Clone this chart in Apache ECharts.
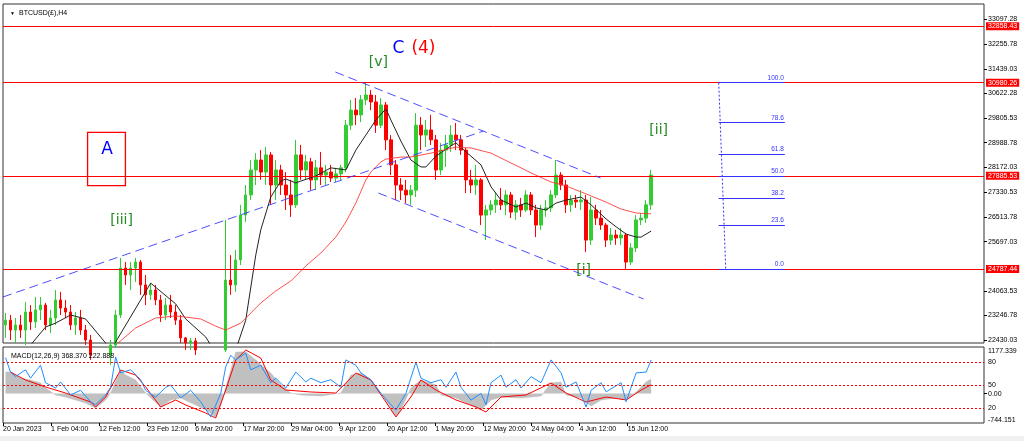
<!DOCTYPE html>
<html><head><meta charset="utf-8">
<script src="https://cdn.jsdelivr.net/npm/echarts@6/dist/echarts.min.js"></script>
<style>html,body{margin:0;padding:0;background:#fff;}#c{width:1024px;height:441px;}</style>
</head><body><div id="c"></div>
<script>
// ---- candles (bar index 0..129, H4 bars sampled) ----
const opens = [22930,23090,22760,22930,22760,23360,23030,23430,23590,22930,
 23160,23760,23490,23360,22930,23160,22760,22430,21930,21600,
 21770,21930,22260,23260,24820,24590,24820,25020,24260,23930,
 24090,23760,23260,23590,23360,23090,22500,22330,22400,22100,
 21600,21430,21270,21430,22100,24420,24260,25090,26580,27250,
 28080,28410,28010,28580,27580,28080,27580,27250,26920,28580,
 28080,28350,27750,28150,27910,28010,27810,27950,28150,29570,
 30070,29910,30410,30570,30340,29570,30240,29080,28250,27580,
 27410,27250,27410,29570,29240,29410,29080,28080,28740,28910,
 29240,29080,28740,27750,27580,27750,26580,26750,26920,27080,
 26920,27250,26680,26920,26750,27250,26750,26250,26750,26820,
 27250,27910,27580,26920,27080,27020,27080,25750,26750,26480,
 26250,25750,25920,25820,25920,25020,25490,26420,26480,26920];
const closes = [23090,22760,22930,22760,23360,23030,23430,23590,22930,23160,
 23760,23490,23360,22930,23160,22760,22430,21930,21600,21770,
 21930,22260,23260,24820,24590,24820,25020,24260,23930,24090,
 23760,23260,23590,23360,23090,22500,22330,22400,22100,21600,
 21430,21270,21430,22100,24420,24260,25090,26580,27250,28080,
 28410,28010,28580,27580,28080,27580,27250,26920,28580,28080,
 28350,27750,28150,27910,28010,27810,27950,28150,29570,30070,
 29910,30410,30570,30340,29570,30240,29080,28250,27580,27410,
 27250,27410,29570,29240,29410,29080,28080,28740,28910,29240,
 29080,28740,27750,27580,27750,26580,26750,26920,27080,26920,
 27250,26680,26920,26750,27250,26750,26250,26750,26820,27250,
 27910,27580,26920,27080,27020,27080,25750,26750,26480,26250,
 25750,25920,25820,25920,25020,25490,26420,26480,26920,27910];
const highs = [23330,23260,23160,23260,23690,23590,23860,23860,23660,23430,
 24090,24030,23760,23590,23360,23430,22930,22600,22100,21930,
 22100,22430,23430,25160,25020,25020,25160,25090,24590,24320,
 24260,23930,23830,23930,23590,23260,22530,22500,22500,22260,
 21930,21770,21600,22260,26420,25250,25420,26920,27580,28410,
 28640,28740,28840,28680,28410,28250,28010,27750,29080,28910,
 28580,28480,28410,28680,28250,28250,28150,28250,29740,30410,
 30470,30570,30980,30740,30570,30470,30340,29240,28410,27810,
 27750,27580,29970,29840,29740,29910,29240,28980,29240,29570,
 29640,29240,28810,28080,28250,27810,26920,27080,27350,27480,
 27410,27350,27080,27150,27410,27350,26920,26920,27080,27410,
 28410,28010,27750,27250,27250,27410,27250,27180,26920,26750,
 26320,26150,26090,26150,25990,25650,26580,26650,27080,28080];
const lows = [22500,22430,22330,22500,22260,22760,22830,23090,22760,22660,
 22930,23260,23160,22760,22600,22600,22260,21770,21430,21270,
 21370,21600,22160,23160,24260,24090,24360,23930,23590,23760,
 23590,23030,23090,23160,22930,22330,22100,22100,21930,21430,
 21100,20930,20770,21100,22030,23930,24030,24920,26350,27080,
 27580,27750,27580,26920,27080,27250,26750,26520,26820,27750,
 27750,27410,27410,27580,27580,27680,27680,27750,28010,29410,
 29570,29670,30240,30070,29310,29470,28740,27910,27080,27080,
 26980,26920,27180,28740,28840,28910,27750,27910,28180,28680,
 28740,28580,27310,27310,27250,26250,25750,26580,26650,26750,
 26580,26480,26420,26520,26680,26580,25850,26090,26520,26680,
 27150,27410,26650,26680,26820,26750,25350,25590,26250,26090,
 25520,25590,25590,25590,24790,24920,25350,26250,26320,26750];

// ---- moving averages: [bar index, price] ----
const maFast = [[5,22260],[8,22860],[10,22990],[13,23260],[16,23130],[17,22930],[19,22530],[20,22330],[21,22030],[22,22360],
 [29,24320],[34,23630],[36,23130],[40,22530],[41,22260],[43,21600],[46,22100],[48,23090],[50,25250],[51,26090],
 [53,27180],[55,27710],[56,27780],[58,27650],[59,27710],[62,27880],[65,28150],[68,28080],[70,28740],[72,29240],
 [74,29740],[76,30110],[77,29740],[79,29040],[81,28410],[83,28180],[84,28180],[86,28540],[89,28880],[90,28980],
 [92,28680],[95,28250],[97,27520],[99,27080],[102,26850],[104,26980],[106,26820],[108,26750],[110,26980],[112,27080],
 [115,27180],[117,26920],[120,26450],[122,26190],[124,25950],[126,25850],[127,25850],[129,26050]];
const maSlow = [[20,22030],[22,22260],[26,22830],[30,23160],[34,23230],[36,23190],[39,23130],[42,22890],[44,22760],[47,22990],
 [51,23660],[54,24060],[57,24390],[60,24890],[63,25320],[66,25850],[68,26350],[70,26980],[72,27750],[73,28010],
 [75,28350],[76,28440],[79,28510],[81,28510],[85,28640],[90,28840],[93,28810],[97,28640],[101,28310],[103,28150],
 [105,27980],[109,27680],[112,27550],[115,27350],[119,27080],[120,27010],[123,26780],[126,26650],[129,26620]];

// ---- MACD window: [bar index, value] ----
const macdHist = [[0,545],[1,545],[3,394],[5,343],[7,267],[8,141],[10,-36],[12,-87],[14,-162],[16,-238],[18,-365],[20,-162],[21,14],
 [23,596],[24,469],[26,343],[28,14],[31,-340],[33,-162],[35,-112],[38,-289],[40,-415],[42,-592],[43,-289],[45,596],[46,1051],
 [48,1051],[50,849],[53,520],[55,217],[57,14],[59,-36],[63,-61],[67,14],[69,469],[71,520],[73,343],[75,14],[77,-365],[78,-592],
 [79,-415],[81,141],[83,343],[86,217],[87,-36],[90,-112],[93,-289],[95,-415],[97,-162],[99,-87],[103,-112],[107,-61],[109,267],
 [111,293],[112,-36],[115,-112],[117,-314],[119,-162],[122,-112],[124,-162],[126,40],[128,293],[129,368]];
const macdSignal = [[1,545],[4,343],[8,166],[12,14],[17,-213],[18,-340],[20,-87],[23,596],[26,469],[28,166],[31,-340],[34,-162],
 [36,-289],[40,-491],[42,-618],[44,90],[46,849],[48,1101],[51,899],[53,343],[56,90],[61,40],[66,14],[70,520],[73,343],[76,-213],
 [78,-592],[81,-87],[83,343],[86,90],[90,-162],[94,-340],[96,-466],[99,-87],[104,-36],[109,267],[112,14],[116,-213],[120,-87],
 [124,-162],[127,90],[129,223]];
const oscLine = [[0,86],[1,67],[2,61],[4,70],[5,59],[7,76],[8,53],[10,46],[11,54],[13,37],[15,43],[17,28],[18,24],[20,37],[21,47],
 [22,87],[23,66],[25,70],[27,57],[28,43],[30,34],[32,47],[33,50],[35,33],[37,43],[39,28],[41,8],[43,39],[44,74],[45,89],[46,83],
 [48,92],[49,70],[51,76],[53,53],[54,59],[56,46],[58,67],[60,54],[61,59],[63,53],[65,57],[67,47],[68,83],[70,76],[71,66],[73,57],
 [75,39],[77,24],[78,17],[80,39],[82,80],[83,59],[85,53],[87,57],[88,47],[90,67],[91,47],[93,30],[95,39],[96,24],[97,53],[99,63],
 [100,47],[102,57],[103,46],[105,61],[107,53],[109,83],[111,66],[112,47],[114,54],[116,21],[117,43],[119,53],[120,41],[123,53],
 [124,28],[126,66],[128,67],[129,83]];
const oscLevels = [80, 50, 20];
const macdMin = -744.151, macdMax = 1177.339;

// ---- axes ----
const NSLOT = 196;
const priceMin = 22330, priceMax = 33595;
const priceTicks = [33097.28,32255.78,31439.03,30622.28,29805.53,28988.78,28172.03,27330.53,26513.78,25697.03,24063.53,23246.78,22430.03];
const xTickIdx = [-0.5,9.1,18.7,28.3,37.9,47.5,57.1,66.7,76.3,85.9,95.5,105.1,114.7,124.3];
const xTickLabels = ['20 Jan 2023','1 Feb 04:00','12 Feb 12:00','23 Feb 12:00','6 Mar 20:00','17 Mar 20:00','29 Mar 04:00',
 '9 Apr 12:00','20 Apr 12:00','1 May 20:00','12 May 20:00','24 May 04:00','4 Jun 12:00','15 Jun 12:00'];

// ---- drawing objects ----
const redLevels = [32858.43, 30980.26, 27885.53, 24787.44];
const trendLines = [
  [[-0.5,23860],[95.5,29375]],
  [[65.9,31335],[118.9,27813]],
  [[74.5,27314],[127.5,23792]],
  [[131.3,28012],[147.5,22260]]
];
const fibLow = 24787.44, fibHigh = 30980.26;
const fibLevels = [0, 23.6, 38.2, 50, 61.8, 78.6, 100];
const fibSpan = [142.5, 155.7];
const fibAnchor = [[142.5, 30980.26],[143.9, 24787.44]];
const waveLabels = ['A','[iii]','[v]','C','(4)','[ii]','[i]'];
const waveIdx = [20.3, 23.2, 74.5, 78.5, 83.5, 130.5, 115.5];
const wavePrice = [28744, 26418, 31668, 32100, 32100, 29408, 24756];
const boxA = [[16.4, 29332],[23.96, 27557]];

// ---- build ----
const cats = Array.from({length: NSLOT}, (_, i) => String(i));
const candleData = opens.map((o, i) => [o, closes[i], lows[i], highs[i]]);
const SMALL = {fontSize: 7, fontFamily: 'Liberation Sans', color: '#000'};
const GREEN = '#228B22';
function waveStyle(t) {
  if (t === 'A' || t === 'C') return {color: '#0000ff', fontSize: 17};
  if (t === '(4)') return {color: '#ff0000', fontSize: 17};
  return {color: GREEN, fontSize: 14};
}
const dash = {color: '#3a3aff', type: [9, 5], width: 1, opacity: 0.9};
const mlData = [];
trendLines.forEach(t => mlData.push([{coord: t[0], lineStyle: dash}, {coord: t[1]}]));
fibLevels.forEach(l => {
  const p = fibLow + (fibHigh - fibLow) * l / 100;
  mlData.push([{coord: [fibSpan[0], p], lineStyle: {color: '#3333ff', type: 'solid', width: 1},
    label: {show: true, position: 'insideEndTop', distance: 1, formatter: l.toFixed(1), color: '#3333ff',
      fontSize: 6.5, fontFamily: 'Liberation Sans'}}, {coord: [fibSpan[1], p]}]);
});
mlData.push([{coord: fibAnchor[0], lineStyle: {color: '#3333ff', type: [2, 2], width: 1}}, {coord: fibAnchor[1]}]);

const macdFmt = v => v > 500 ? macdMax.toFixed(3) : (v < -500 ? macdMin.toFixed(3) : '0.00');
const pxMacd = (macdMax - macdMin) / 76;
const NOLINE = {show: false, onZero: false};

const chart = echarts.init(document.getElementById('c'), null, {renderer: 'canvas'});
chart.setOption({
  animation: false,
  backgroundColor: '#fff',
  title: [
    {text: '▼', left: 5, top: 6, textStyle: {fontSize: 5, color: '#000', fontWeight: 'normal'}},
    {text: 'BTCUSD(£),H4', left: 14, top: 5, textStyle: Object.assign({fontWeight: 'normal'}, SMALL)},
    {text: 'MACD(12,26,9) 368.370 222.888', left: 6, top: 348, textStyle: Object.assign({fontWeight: 'normal'}, SMALL)}
  ],
  graphic: [{type: 'rect', left: 0, top: 436, shape: {width: 1024, height: 5}, style: {fill: '#f0f0f0'}, silent: true}],
  grid: [
    {left: 3, right: 40, top: 4, bottom: 98, show: true, borderColor: '#333', borderWidth: 1, containLabel: false, outerBoundsMode: 'none'},
    {left: 3, right: 40, top: 347, bottom: 18, show: true, borderColor: '#333', borderWidth: 1, containLabel: false, outerBoundsMode: 'none'}
  ],
  xAxis: [
    {type: 'category', gridIndex: 0, data: cats, boundaryGap: true, show: false, axisLine: NOLINE},
    {type: 'value', gridIndex: 0, min: -0.5, max: NSLOT - 0.5, show: false, axisLine: NOLINE},
    {type: 'value', gridIndex: 1, min: -0.5, max: NSLOT - 0.5, position: 'bottom',
      axisLine: {show: false, onZero: false}, splitLine: {show: false},
      axisTick: {show: true, customValues: xTickIdx, length: 3, lineStyle: {color: '#000'}},
      axisLabel: Object.assign({show: true, customValues: xTickIdx, align: 'left', margin: 3, hideOverlap: false,
        formatter: v => { const k = xTickIdx.findIndex(t => Math.abs(t - v) < 0.01); return k >= 0 ? xTickLabels[k] : ''; }}, SMALL)}
  ],
  yAxis: [
    {type: 'value', gridIndex: 0, position: 'right', min: priceMin, max: priceMax, splitLine: {show: false},
      axisLine: NOLINE, axisTick: {show: true, customValues: priceTicks, length: 3, lineStyle: {color: '#000'}},
      axisLabel: Object.assign({customValues: priceTicks, margin: 4, hideOverlap: false, formatter: v => v.toFixed(2)}, SMALL)},
    {type: 'value', gridIndex: 1, position: 'right', min: macdMin, max: macdMax, splitLine: {show: false},
      axisLine: NOLINE, axisTick: {show: true, customValues: [0], length: 3, lineStyle: {color: '#000'}},
      axisLabel: Object.assign({customValues: [macdMax - 4 * pxMacd, 0, macdMin + 3 * pxMacd], margin: 4, hideOverlap: false,
        formatter: macdFmt}, SMALL)},
    {type: 'value', gridIndex: 1, position: 'right', min: 0, max: 100, splitLine: {show: false},
      axisLine: NOLINE, axisTick: {show: false},
      axisLabel: Object.assign({customValues: oscLevels, margin: 4, hideOverlap: false}, SMALL)}
  ],
  series: [
    {type: 'candlestick', xAxisIndex: 0, yAxisIndex: 0, data: candleData, barWidth: 3, clip: true,
      itemStyle: {color: '#33cc33', color0: '#ff0000', borderColor: '#33cc33', borderColor0: '#ff0000', borderWidth: 1},
      markLine: {silent: true, symbol: ['none', 'none'], lineStyle: {color: '#ff0000', type: 'solid', width: 1},
        label: {show: true, position: 'end', distance: 2, formatter: p => p.value.toFixed(2), color: '#fff',
          backgroundColor: '#ff0000', padding: [1, 2, 0, 2], fontSize: 7, fontFamily: 'Liberation Sans'},
        data: redLevels.map(v => ({yAxis: v}))}},
    {type: 'line', name: 'fast', xAxisIndex: 1, yAxisIndex: 0, data: maFast, symbol: 'none', clip: true,
      lineStyle: {color: '#222', width: 1}, z: 3},
    {type: 'line', name: 'slow', xAxisIndex: 1, yAxisIndex: 0, data: maSlow, symbol: 'none', clip: true,
      lineStyle: {color: '#ff3030', width: 1, opacity: 0.85}, z: 3},
    {type: 'scatter', xAxisIndex: 1, yAxisIndex: 0, data: [], z: 5,
      markLine: {silent: true, symbol: ['none', 'none'], label: {show: false}, data: mlData},
      markArea: {silent: true, itemStyle: {color: 'rgba(0,0,0,0)', borderColor: '#ff0000', borderWidth: 1.3},
        data: [[{coord: boxA[0]}, {coord: boxA[1]}]]},
      markPoint: {silent: true, symbol: 'circle', symbolSize: 1, itemStyle: {color: 'rgba(0,0,0,0)'},
        data: waveLabels.map((t, i) => ({coord: [waveIdx[i], wavePrice[i]],
          label: Object.assign({show: true, position: 'inside', formatter: t, fontFamily: 'DejaVu Sans'}, waveStyle(t))}))}},
    {type: 'line', xAxisIndex: 2, yAxisIndex: 1, data: macdHist, symbol: 'none',
      lineStyle: {width: 0.5, color: '#b8b8b8'}, areaStyle: {color: '#c0c0c0', opacity: 1}, z: 1},
    {type: 'line', xAxisIndex: 2, yAxisIndex: 1, data: macdSignal, symbol: 'none',
      lineStyle: {width: 1, color: '#ff0000'}, z: 3},
    {type: 'line', xAxisIndex: 2, yAxisIndex: 2, data: oscLine, symbol: 'none',
      lineStyle: {width: 1, color: '#1e90ff'}, z: 4,
      markLine: {silent: true, symbol: ['none', 'none'], label: {show: false},
        lineStyle: {color: '#ff0000', type: [2, 2], width: 1}, data: oscLevels.map(v => ({yAxis: v}))}}
  ]
});
</script>
</body></html>
